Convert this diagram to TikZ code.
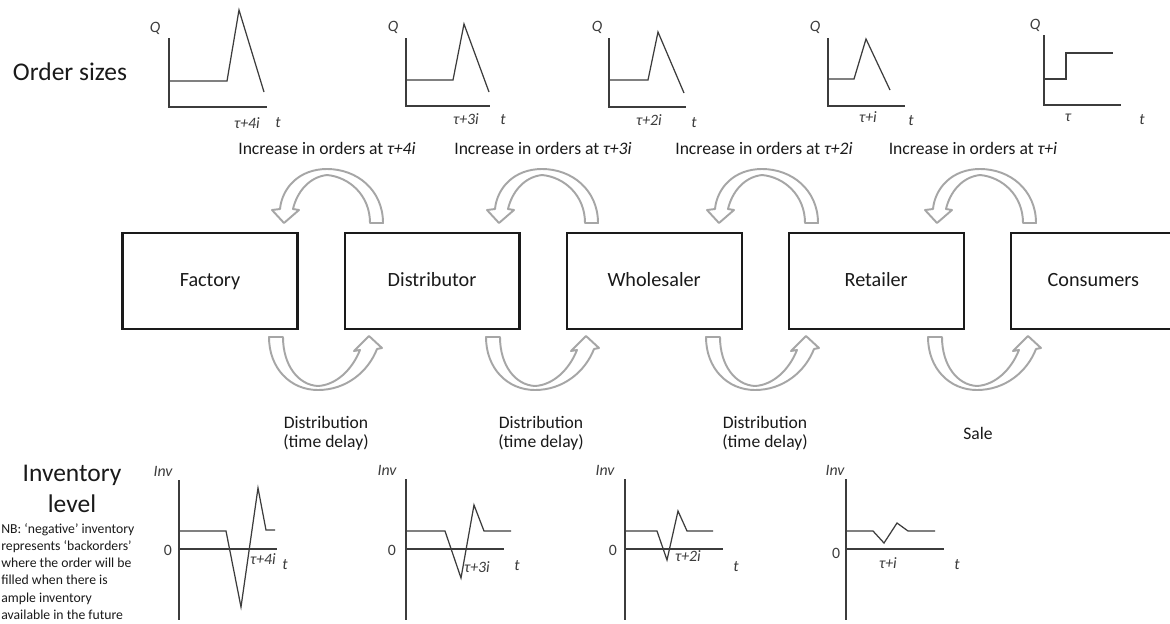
\documentclass[tikz,border=0pt]{standalone}
\usepackage{fontspec}
\setmainfont{Carlito}
\usetikzlibrary{positioning}
\definecolor{ChainBlack}{HTML}{1A1A1A}
\definecolor{ChainGray}{HTML}{A6A6A6}
\definecolor{PlotGray}{HTML}{3C3C3C}
\tikzset{
  stage/.style={draw=ChainBlack, line width=1.2pt, minimum width=3.5cm,
                minimum height=1.92cm, inner sep=0pt, text height=1.6ex, text depth=0.4ex,
                font=\fontsize{11.5}{13}\selectfont\color{ChainBlack}},
  flowarrow/.style={draw=ChainGray, line width=1.1pt, fill=white, line join=round},
  plotline/.style={draw=PlotGray, line width=0.7pt},
  flowlabel/.style={font=\fontsize{10}{11}\selectfont\color{ChainBlack}, align=center},
  axislabel/.style={font=\fontsize{9}{10}\selectfont\itshape\color{PlotGray}, inner sep=1pt},
  zerolabel/.style={font=\fontsize{9}{10}\selectfont\color{PlotGray}, inner sep=1pt},
  rowtitle/.style={font=\fontsize{14.5}{18}\selectfont\color{ChainBlack}, align=center},
  note/.style={font=\fontsize{7.8}{9.8}\selectfont\color{ChainBlack}, align=left, inner sep=0pt},
}
\begin{document}
\begin{tikzpicture}[x=0.02cm, y=-0.02cm]
  \fill[white] (0,0) rectangle (1170,623);
  \useasboundingbox (0,0) rectangle (1170,623);

  % supply chain stages
  \node[stage] (factory) at (210,281) {Factory};
  \node[stage, right=0.9cm of factory] (distributor) {Distributor};
  \node[stage, right=0.9cm of distributor] (wholesaler) {Wholesaler};
  \node[stage, right=0.9cm of wholesaler] (retailer) {Retailer};
  \node[stage, minimum width=3.3cm, right=0.9cm of retailer] (consumers) {Consumers};

  % orders flowing upstream (top) and goods flowing downstream (bottom)
  \foreach \ax in {327,542,762,980}
    \draw[flowarrow, shift={(\ax,0)}]
      (56,223) .. controls (56,190) and (30,169) .. (0,169)
      .. controls (-28,169) and (-45,188) .. (-47,209)
      -- (-55,210) -- (-43,223) -- (-28,210) -- (-34,209)
      .. controls (-30,192) and (-18,177) .. (0,175)
      .. controls (22,177) and (43,195) .. (43,223) -- cycle;
  \foreach \bx in {318,535,755,977}
    \draw[flowarrow, shift={(\bx,0)}]
      (-49,337) .. controls (-49,368) and (-28,390) .. (0,390)
      .. controls (28,390) and (50,372) .. (59,349)
      -- (64,348) -- (51,336) -- (36,351) -- (42,350)
      .. controls (34,370) and (18,385) .. (0,386)
      .. controls (-20,385) and (-35,365) .. (-35,337) -- cycle;

  \node[flowlabel] (ord1) at (327,148) {Increase in orders at \textit{τ+4i}};
  \node[flowlabel] (ord2) at (543,148) {Increase in orders at \textit{τ+3i}};
  \node[flowlabel] (ord3) at (764,148) {Increase in orders at \textit{τ+2i}};
  \node[flowlabel] (ord4) at (973,148) {Increase in orders at \textit{τ+i}};

  \node[flowlabel] (dist1) at (326,433) {Distribution\\(time delay)};
  \node[flowlabel] (dist2) at (541,433) {Distribution\\(time delay)};
  \node[flowlabel] (dist3) at (765,433) {Distribution\\(time delay)};
  \node[flowlabel] (sale) at (978,433) {Sale};

  % row titles
  \node[rowtitle] (ordertitle) at (70,72) {Order sizes};
  \node[rowtitle] (invtitle) at (72,489) {Inventory\\level};
  \node[note, anchor=north west] (nbnote) at (1,523)
    {NB: ‘negative’ inventory\\represents ‘backorders’\\where the order will be\\
     filled when there is\\ample inventory\\available in the future};

  % order size charts
  \draw[plotline] (169,38) -- (169,107) -- (267,107);
  \draw[plotline] (169,81) -- (227,81) -- (239,10) -- (264,92);
  \node[axislabel] (q1) at (155,28) {Q};
  \node[axislabel] (otau1) at (247,123) {τ+4i};
  \node[axislabel] (ot1) at (278,123) {t};

  \draw[plotline] (406,38) -- (406,106) -- (490,106);
  \draw[plotline] (406,80) -- (453,80) -- (464,24) -- (489,92);
  \node[axislabel] (q2) at (393,27) {Q};
  \node[axislabel] (otau2) at (466,119) {τ+3i};
  \node[axislabel] (ot2) at (503,120) {t};

  \draw[plotline] (609,38) -- (609,107) -- (686,107);
  \draw[plotline] (609,80) -- (648,80) -- (658,32) -- (684,93);
  \node[axislabel] (q3) at (597,27) {Q};
  \node[axislabel] (otau3) at (649,120) {τ+2i};
  \node[axislabel] (ot3) at (694,123) {t};

  \draw[plotline] (828,38) -- (828,106) -- (905,106);
  \draw[plotline] (828,79) -- (854,79) -- (866,39) -- (890,90);
  \node[axislabel] (q4) at (815,27) {Q};
  \node[axislabel] (otau4) at (868,117) {τ+i};
  \node[axislabel] (ot4) at (911,121) {t};

  \draw[plotline] (1044,35) -- (1044,105) -- (1121,105);
  \draw[plotline] (1044,79) -- (1066,79) -- (1066,53) -- (1113,53);
  \node[axislabel] (q5) at (1035,25) {Q};
  \node[axislabel] (otau5) at (1068,118) {τ};
  \node[axislabel] (ot5) at (1142,120) {t};

  % inventory charts
  \draw[plotline] (179,480) -- (179,620);
  \draw[plotline] (179,549) -- (277,549);
  \draw[plotline] (179,531) -- (226,531) -- (241,607) -- (258,488) -- (266,530) -- (275,530);
  \node[axislabel] (inv1) at (163,471) {Inv};
  \node[zerolabel] (z1) at (168,550) {0};
  \node[axislabel] (itau1) at (263,559) {τ+4i};
  \node[axislabel] (it1) at (285,565) {t};

  \draw[plotline] (406,479) -- (406,620);
  \draw[plotline] (406,549) -- (504,549);
  \draw[plotline] (406,531) -- (445,531) -- (461,578) -- (474,505) -- (484,531) -- (511,531);
  \node[axislabel] (inv2) at (387,470) {Inv};
  \node[zerolabel] (z2) at (392,550) {0};
  \node[axislabel] (itau2) at (477,567) {τ+3i};
  \node[axislabel] (it2) at (517,566) {t};

  \draw[plotline] (625,479) -- (625,620);
  \draw[plotline] (625,549) -- (723,549);
  \draw[plotline] (625,531) -- (657,531) -- (667,560) -- (678,511) -- (687,531) -- (713,531);
  \node[axislabel] (inv3) at (605,470) {Inv};
  \node[zerolabel] (z3) at (613,550) {0};
  \node[axislabel] (itau3) at (688,556) {τ+2i};
  \node[axislabel] (it3) at (736,567) {t};

  \draw[plotline] (846,479) -- (846,620);
  \draw[plotline] (846,549) -- (944,549);
  \draw[plotline] (846,531) -- (873,531) -- (884,543) -- (897,523) -- (908,531) -- (935,531);
  \node[axislabel] (inv4) at (835,470) {Inv};
  \node[zerolabel] (z4) at (836,553) {0};
  \node[axislabel] (itau4) at (888,563) {τ+i};
  \node[axislabel] (it4) at (957,565) {t};
\end{tikzpicture}
\end{document}
